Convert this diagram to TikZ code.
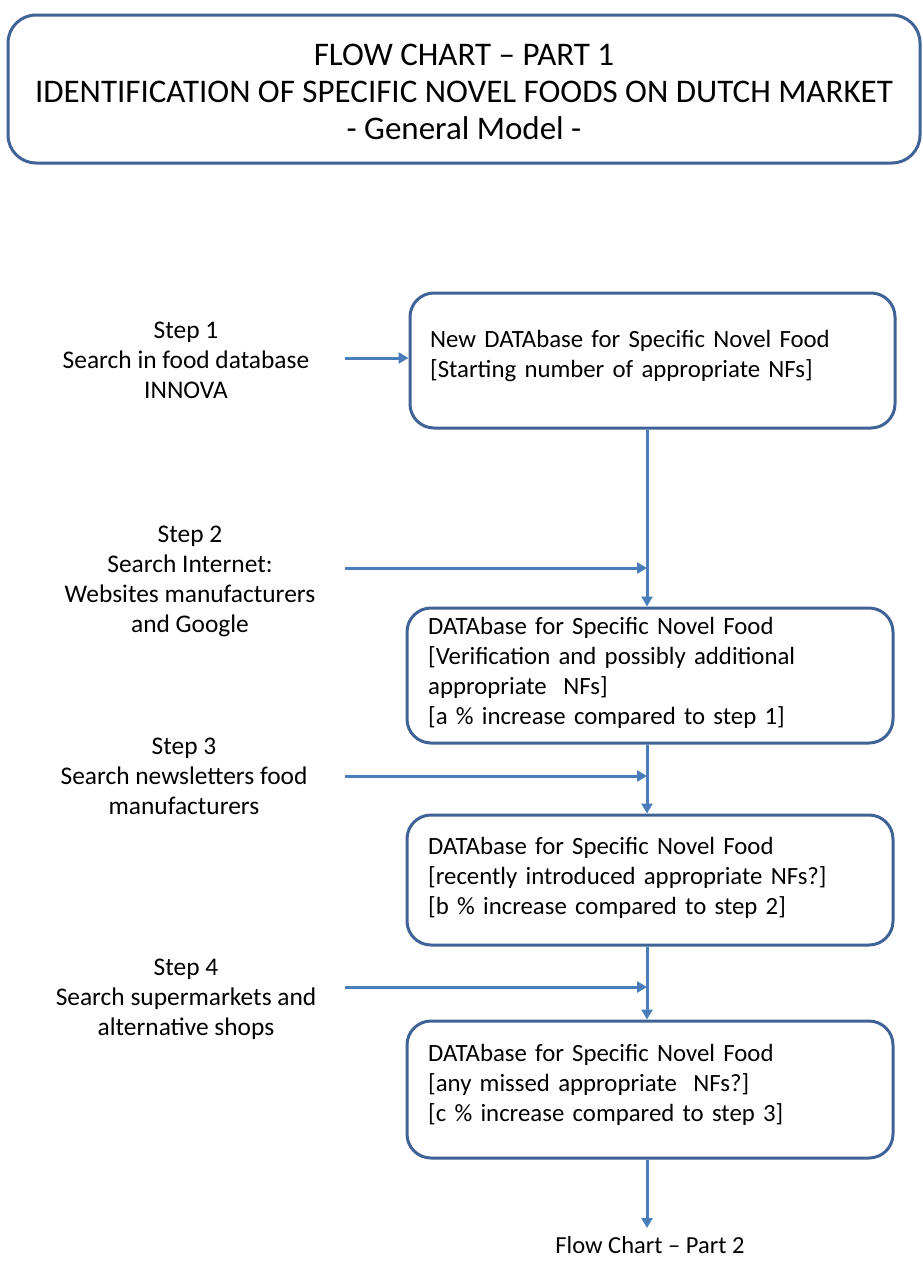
\documentclass[tikz,border=0pt]{standalone}
\usepackage{fontspec}
\setmainfont{Carlito}
\usetikzlibrary{arrows.meta,calc}
\definecolor{boxblue}{HTML}{3F6396}
\definecolor{arrowblue}{HTML}{4A7EBB}
\tikzset{
  px/.style={x=1pt,y=-1pt},
  titlebox/.style={draw=boxblue,line width=3pt,rounded corners=28pt,fill=white,
    minimum width=912pt,minimum height=148pt},
  titletext/.style={align=center,inner sep=0pt,font=\fontsize{33}{37}\selectfont},
  dbframe/.style={draw=boxblue,line width=3pt,rounded corners=24pt},
  dbtext/.style={align=left,inner sep=0pt,text width=450pt,
    font=\fontsize{24.8}{30}\selectfont},
  steplabel/.style={align=center,inner sep=0pt,font=\fontsize{25.4}{30}\selectfont},
  flow/.style={draw=arrowblue,line width=3pt,-{Triangle[length=10pt,width=11pt]}},
}
\begin{document}
\begin{tikzpicture}[px]
\useasboundingbox (0,0) rectangle (923,1261);
\fill[white] (0,0) rectangle (923,1261);

% title
\node[titlebox] (title) at (464,89) {};
\node[titletext] (titlet) at (464,92) {FLOW CHART -- PART 1\\IDENTIFICATION OF SPECIFIC NOVEL FOODS ON DUTCH MARKET\\- General Model -};

% database boxes
\node[dbframe,minimum width=485pt,minimum height=135pt] (box1) at (652.5,360.5) {};
\node[dbtext,anchor=west] (t1) at (430,356) {New DATAbase for Specific Novel Food\\\relax[Starting number of appropriate NFs]};

\node[dbframe,minimum width=486pt,minimum height=135pt] (box2) at (650,675.5) {};
\node[dbtext,anchor=west] (t2) at (428,673) {DATAbase for Specific Novel Food\\\relax[Verification and possibly additional\\appropriate\ \ NFs]\\\relax[a \% increase compared to step 1]};

\node[dbframe,minimum width=486pt,minimum height=130pt] (box3) at (650,880) {};
\node[dbtext,anchor=west] (t3) at (428,878) {DATAbase for Specific Novel Food\\\relax[recently introduced appropriate NFs?]\\\relax[b \% increase compared to step 2]};

\node[dbframe,minimum width=486pt,minimum height=137pt] (box4) at (650,1089.5) {};
\node[dbtext,anchor=west] (t4) at (428,1085) {DATAbase for Specific Novel Food\\\relax[any missed appropriate\ \ NFs?]\\\relax[c \% increase compared to step 3]};

% step labels
\node[steplabel] (s1) at (186,360) {Step 1\\Search in food database\\INNOVA};
\node[steplabel] (s2) at (190,581) {Step 2\\Search Internet:\\Websites manufacturers\\and Google};
\node[steplabel] (s3) at (184,776) {Step 3\\Search newsletters food\\manufacturers};
\node[steplabel] (s4) at (186,999) {Step 4\\Search supermarkets and\\alternative shops};

\node[inner sep=0pt,font=\fontsize{24.5}{30}\selectfont] (part2) at (650,1245) {Flow Chart -- Part 2};

% connector coordinates
\coordinate (a1) at (345,358);
\coordinate (a2) at (345,568);
\coordinate (a3) at (345,776);
\coordinate (a4) at (345,987);
\coordinate (v2) at (647,568);
\coordinate (v3) at (647,776);
\coordinate (v4) at (647,987);
\coordinate (end) at (647,1228);

% connectors
\draw[flow] (a1) -- (a1 -| box1.west);
\draw[flow] (box1.south -| v2) -- (box2.north -| v2);
\draw[flow] (a2) -- (v2);
\draw[flow] (box2.south -| v3) -- (box3.north -| v3);
\draw[flow] (a3) -- (v3);
\draw[flow] (box3.south -| v4) -- (box4.north -| v4);
\draw[flow] (a4) -- (v4);
\draw[flow] (box4.south -| end) -- (end);
\end{tikzpicture}
\end{document}
